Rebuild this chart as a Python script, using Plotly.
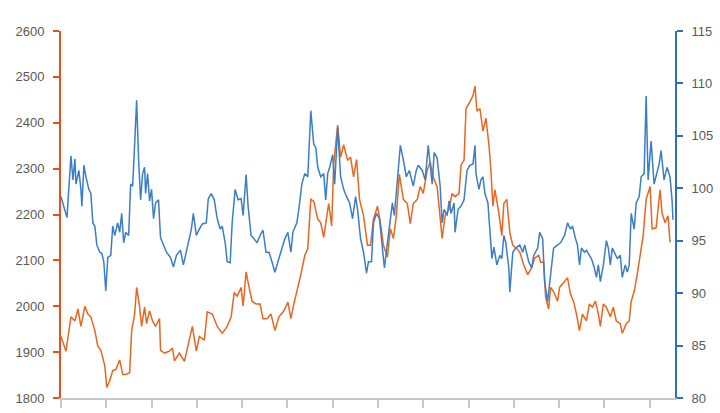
import plotly.graph_objects as go

# Orange series (left axis): day offset from start, value
orange_day = [0, 40, 80, 112, 136, 160, 192, 216, 240, 272, 296, 320, 352, 368, 392, 416, 440, 472, 496, 520,
              552, 568, 592, 608, 632, 648, 672, 688, 712, 736, 760, 792, 800, 832, 872, 896, 912, 952, 992, 1016,
              1056, 1088, 1112, 1152, 1176, 1216, 1256, 1296, 1336, 1368, 1392, 1416, 1448, 1464, 1488, 1512, 1536, 1568, 1600, 1624,
              1656, 1688, 1720, 1752, 1792, 1824, 1848, 1872, 1896, 1928, 1960, 1984, 2008, 2032, 2064, 2088, 2112, 2136, 2152, 2176,
              2192, 2224, 2248, 2272, 2304, 2328, 2352, 2376, 2400, 2432, 2464, 2488, 2512, 2544, 2568, 2592, 2624, 2648, 2672, 2696,
              2720, 2752, 2784, 2808, 2832, 2864, 2888, 2912, 2944, 2968, 2992, 3024, 3048, 3064, 3088, 3120, 3144, 3168, 3200, 3216,
              3240, 3256, 3288, 3312, 3328, 3344, 3368, 3392, 3416, 3440, 3456, 3472, 3488, 3520, 3544, 3560, 3584, 3608, 3632, 3664,
              3688, 3720, 3752, 3784, 3808, 3840, 3856, 3880, 3896, 3920, 3936, 3960, 3992, 4008, 4048, 4072, 4096, 4120, 4144, 4168,
              4192, 4224, 4248, 4272, 4296, 4320, 4336, 4360, 4384, 4416, 4440, 4464, 4496, 4512, 4544, 4568, 4584, 4608, 4632, 4656,
              4680, 4704, 4736, 4752, 4784, 4816, 4832, 4856, 4880, 4896]
orange_val = [1934, 1902, 1977, 1968, 1994, 1956, 2000, 1983, 1977, 1947, 1913, 1904, 1870, 1823, 1838, 1860, 1862, 1883, 1851, 1851,
              1855, 1947, 1983, 2041, 1998, 1956, 1998, 1962, 1990, 1968, 1956, 1973, 1904, 1898, 1902, 1909, 1881, 1898, 1880, 1909,
              1956, 1902, 1934, 1926, 1988, 1983, 1956, 1941, 1956, 1977, 2030, 2022, 2041, 2000, 2075, 2041, 2011, 2005, 2005, 1973,
              1973, 1983, 1947, 1977, 1990, 2009, 1973, 2005, 2032, 2069, 2111, 2126, 2233, 2229, 2190, 2182, 2150, 2190, 2224, 2175,
              2310, 2395, 2325, 2352, 2318, 2325, 2282, 2320, 2233, 2197, 2133, 2133, 2190, 2218, 2182, 2133, 2107, 2169, 2148, 2197,
              2288, 2233, 2224, 2180, 2224, 2233, 2261, 2246, 2297, 2314, 2282, 2260, 2182, 2148, 2197, 2212, 2246, 2239, 2246, 2308,
              2318, 2431, 2446, 2459, 2480, 2425, 2431, 2382, 2410, 2352, 2297, 2218, 2254, 2203, 2154, 2224, 2233, 2160, 2133, 2126,
              2118, 2090, 2069, 2084, 2105, 2111, 2096, 2096, 2020, 1994, 2041, 2032, 2011, 2041, 2054, 2062, 2026, 2011, 1983, 1947,
              1983, 1968, 2005, 1998, 2011, 1983, 1956, 2005, 1998, 1977, 1998, 1968, 1962, 1941, 1962, 1968, 2011, 2032, 2069, 2111,
              2154, 2233, 2261, 2169, 2171, 2254, 2203, 2182, 2197, 2139]

# Blue series (right axis): day offset from start, value
blue_day = [0, 32, 48, 80, 96, 112, 120, 144, 160, 168, 184, 200, 224, 240, 256, 272, 288, 312, 328, 344,
            360, 376, 400, 416, 432, 456, 472, 488, 504, 520, 544, 560, 576, 592, 608, 624, 640, 656, 672, 680,
            696, 712, 728, 744, 760, 784, 800, 824, 848, 880, 904, 928, 960, 984, 1016, 1048, 1064, 1088, 1112, 1136,
            1168, 1184, 1208, 1232, 1256, 1280, 1296, 1320, 1336, 1360, 1376, 1400, 1424, 1448, 1464, 1488, 1504, 1528, 1552, 1576,
            1600, 1624, 1648, 1672, 1696, 1720, 1744, 1768, 1800, 1824, 1848, 1864, 1896, 1912, 1936, 1960, 1984, 2008, 2032, 2048,
            2064, 2088, 2112, 2128, 2144, 2160, 2184, 2200, 2224, 2248, 2272, 2296, 2320, 2344, 2368, 2384, 2408, 2432, 2456, 2472,
            2496, 2512, 2536, 2560, 2584, 2600, 2624, 2640, 2664, 2680, 2704, 2728, 2752, 2776, 2800, 2832, 2856, 2872, 2904, 2928,
            2952, 2984, 3000, 3024, 3048, 3064, 3080, 3104, 3120, 3136, 3160, 3168, 3192, 3216, 3240, 3264, 3288, 3312, 3328, 3336,
            3360, 3376, 3392, 3408, 3432, 3448, 3464, 3480, 3504, 3528, 3544, 3560, 3576, 3600, 3608, 3632, 3656, 3688, 3712, 3728,
            3760, 3784, 3800, 3832, 3848, 3872, 3888, 3912, 3936, 3960, 3992, 4016, 4048, 4072, 4096, 4112, 4136, 4152, 4168, 4184,
            4208, 4224, 4248, 4264, 4288, 4304, 4320, 4336, 4360, 4384, 4400, 4416, 4432, 4456, 4472, 4496, 4512, 4536, 4552, 4568,
            4584, 4608, 4624, 4648, 4664, 4688, 4704, 4720, 4744, 4768, 4784, 4808, 4824, 4848, 4872, 4896, 4912, 4920]
blue_val = [99.2, 98.0, 97.2, 103.1, 100.8, 102.8, 100.4, 101.7, 99.9, 98.3, 102.2, 101.1, 99.9, 99.5, 96.7, 96.4, 94.6, 93.9, 93.8, 93.0,
            90.2, 93.4, 93.6, 96.4, 95.5, 96.7, 95.8, 97.6, 94.8, 95.8, 95.5, 100.4, 100.2, 104.2, 108.4, 102.7, 98.9, 101.4, 102.0, 99.5,
            101.4, 98.8, 99.9, 97.1, 98.6, 98.9, 95.3, 94.6, 93.9, 93.4, 92.5, 93.6, 94.1, 92.7, 94.3, 96.1, 97.6, 95.5, 96.1, 96.6,
            96.7, 99.0, 99.5, 98.9, 97.1, 96.1, 96.4, 94.8, 93.0, 92.9, 96.7, 99.9, 98.9, 99.0, 97.4, 101.3, 98.3, 95.5, 95.2, 94.8,
            95.5, 96.0, 93.9, 93.9, 93.0, 92.0, 93.0, 93.9, 95.2, 95.8, 93.9, 95.8, 96.7, 98.0, 100.4, 101.4, 101.1, 107.4, 104.2, 103.9,
            102.0, 101.1, 101.4, 98.9, 101.4, 102.0, 103.2, 100.4, 105.8, 101.1, 99.9, 99.2, 98.6, 97.1, 99.2, 98.0, 95.2, 93.9, 91.9, 93.0,
            93.0, 96.7, 97.6, 97.1, 94.3, 92.4, 94.8, 96.4, 98.6, 97.4, 101.1, 104.1, 102.7, 101.1, 101.7, 100.2, 101.7, 102.2, 101.7, 100.8,
            104.1, 100.4, 103.4, 102.9, 100.2, 96.7, 98.0, 97.4, 98.8, 97.6, 98.6, 95.8, 98.0, 98.3, 98.9, 101.7, 102.2, 102.3, 104.1, 101.4,
            99.9, 100.8, 101.1, 99.5, 98.6, 96.0, 93.3, 94.4, 92.7, 93.6, 93.3, 95.5, 94.8, 92.4, 90.1, 93.9, 94.3, 94.6, 93.9, 94.6,
            93.0, 92.4, 93.6, 94.3, 95.8, 95.2, 91.1, 89.2, 91.8, 94.3, 94.6, 94.8, 95.5, 96.7, 96.1, 96.4, 95.2, 94.6, 92.7, 94.3,
            93.9, 94.1, 93.6, 93.3, 92.4, 91.5, 92.7, 91.1, 92.7, 95.0, 94.3, 92.7, 94.3, 93.6, 93.3, 93.6, 91.5, 92.7, 92.0, 92.7,
            97.6, 96.1, 98.6, 99.2, 101.1, 101.4, 108.8, 100.8, 104.5, 100.4, 101.1, 102.3, 103.6, 100.8, 102.0, 101.1, 98.9, 97.0]

x_ticks = [0, 364, 728, 1092, 1456, 1820, 2184, 2548, 2912, 3276, 3640, 4004, 4368, 4732]
left_ticks = [1800, 1900, 2000, 2100, 2200, 2300, 2400, 2500, 2600]
right_ticks = [80, 85, 90, 95, 100, 105, 110, 115]

ORANGE = "#E8661F"
ORANGE_AX = "#E4511B"
BLUE = "#3A7EC8"
BLUE_AX = "#2C70C0"
LABEL = "#595959"

fig = go.Figure()
fig.add_trace(go.Scatter(x=orange_day, y=orange_val, mode="lines",
                         line=dict(color=ORANGE, width=1.5), yaxis="y", showlegend=False))
fig.add_trace(go.Scatter(x=blue_day, y=blue_val, mode="lines",
                         line=dict(color=BLUE, width=1.5), yaxis="y2", showlegend=False))

fig.update_layout(
    width=720, height=413,
    margin=dict(l=61, r=42, t=31, b=7),
    paper_bgcolor="white", plot_bgcolor="white",
    font=dict(family="Liberation Sans, Arial, sans-serif", size=13, color=LABEL),
    xaxis=dict(range=[0, 4936], tickvals=x_ticks, ticktext=[""] * len(x_ticks),
               showgrid=False, zeroline=False, showline=True, linecolor="#C8C8C8", linewidth=1.5,
               ticks="outside", ticklen=8, tickwidth=1.5, tickcolor="#C8C8C8"),
    yaxis=dict(range=[1800, 2600], tickvals=left_ticks, showgrid=False, zeroline=False,
               showline=True, linecolor=ORANGE_AX, linewidth=2,
               ticks="outside", ticklen=6, tickwidth=1.5, tickcolor=ORANGE_AX,
               ticklabelstandoff=6, tickfont=dict(color=LABEL, size=13)),
    yaxis2=dict(range=[80, 115], tickvals=right_ticks, overlaying="y", side="right",
                showgrid=False, zeroline=False,
                showline=True, linecolor=BLUE_AX, linewidth=2,
                ticks="outside", ticklen=6, tickwidth=1.5, tickcolor=BLUE_AX,
                ticklabelstandoff=6, tickfont=dict(color=LABEL, size=13)),
)

fig.write_html("out.html")
